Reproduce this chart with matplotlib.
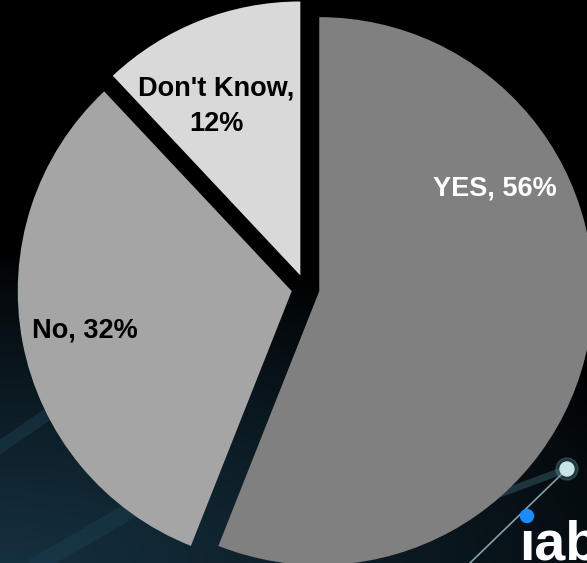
import numpy as np
import matplotlib.pyplot as plt
from matplotlib.colors import LinearSegmentedColormap
from matplotlib.patches import Circle

# survey answers
labels = ['YES', 'No', "Don't Know"]
shares = [56, 32, 12]
colors = ['#808080', '#a5a5a5', '#d9d9d9']
text_colors = ['white', 'black', 'black']
# label anchor points in pixels (from top-left)
label_xy = [(495, 188), (85, 331), (216, 106)]

W, H = 587, 563
font = ['Liberation Sans', 'DejaVu Sans']

fig = plt.figure(figsize=(W / 100, H / 100), dpi=100)
fig.patch.set_facecolor('black')
ax = fig.add_axes([0, 0, 1, 1])

# dark blue haze in the lower left of the slide background
yy, xx = np.mgrid[0:1:200j, 0:1:200j]
glow = np.clip(1 - np.hypot(xx * 0.8, yy * 1.8), 0, 1) ** 0.8
bg = LinearSegmentedColormap.from_list('bg', ['#000000', '#15303f'])
ax.imshow(glow, extent=[0, W, 0, H], origin='lower', cmap=bg, aspect='auto', zorder=0)

# a few light streaks
ax.plot([0, 120], [H - 447, H - 365], color='#1f4556', lw=9, alpha=0.4, zorder=1)
ax.plot([40, 200], [H - 563, H - 470], color='#1f4556', lw=12, alpha=0.35, zorder=1)
ax.plot([567, 470], [H - 469, H - 563], color='#9fc7cc', lw=1.2, alpha=0.8, zorder=1)
ax.plot([567, 470], [H - 469, H - 505], color='#3d6470', lw=5, alpha=0.45, zorder=1)
ax.add_patch(Circle((567, H - 469), 11, color='#5f9aa3', alpha=0.3, zorder=1))
ax.add_patch(Circle((567, H - 469), 7, color='#c8e6e8', zorder=1))

wedges, _ = ax.pie(shares, colors=colors, startangle=90, counterclock=False,
                   radius=274, center=(305.5, H - 288.5), explode=[14, 14, 14],
                   wedgeprops=dict(linewidth=0))
for w in wedges:
    w.set_zorder(2)

for lab, val, (x, y), c in zip(labels, shares, label_xy, text_colors):
    txt = '{}, {}%'.format(lab, val)
    if lab == "Don't Know":
        txt = "{},\n{}%".format(lab, val)
    ax.text(x, H - y, txt, color=c, fontsize=19.5, fontweight='bold', family=font,
            ha='center', va='center', linespacing=1.5, zorder=3)

# iab logo, bottom right (runs off the slide edge like the original)
ax.text(519, H - 559, '\u0131ab', color='white', fontsize=40, fontweight='bold',
        family=font, ha='left', va='baseline', zorder=3)
ax.add_patch(Circle((527, H - 516), 6.5, color='#1a8cff', zorder=3))

ax.set_xlim(0, W)
ax.set_ylim(0, H)
ax.axis('off')

plt.savefig('out.png', dpi=100, facecolor='black')
